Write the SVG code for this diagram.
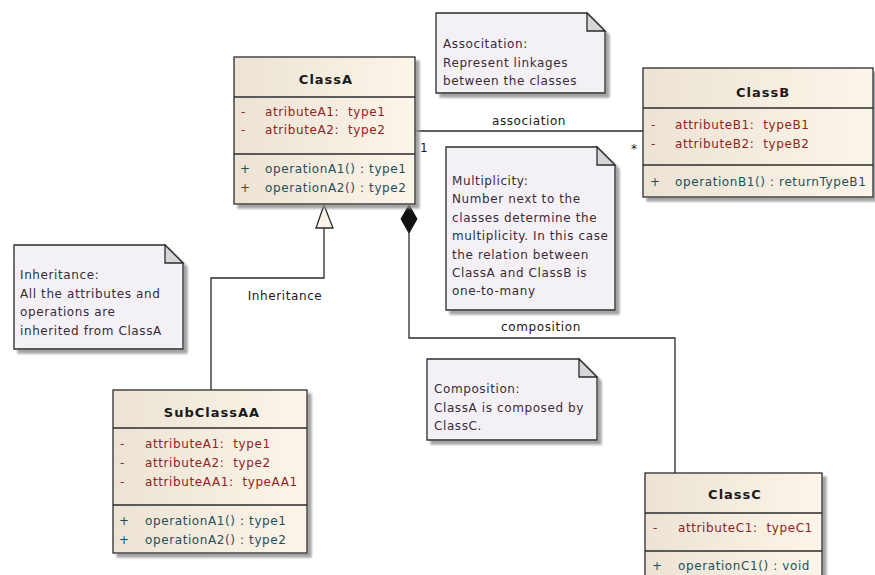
<svg xmlns="http://www.w3.org/2000/svg" width="875" height="575" viewBox="0 0 875 575">
  <defs>
    <linearGradient id="classFill" x1="0" y1="0" x2="1" y2="0">
      <stop offset="0" stop-color="#ece3d4"/>
      <stop offset="1" stop-color="#fcf5e9"/>
    </linearGradient>
    <filter id="shadow" x="-5%" y="-5%" width="115%" height="115%">
      <feDropShadow dx="4" dy="4" stdDeviation="1" flood-color="#8c8c8c" flood-opacity="0.8"/>
    </filter>
  </defs>
  <style>
    text { font-family: "DejaVu Sans", Verdana, sans-serif; font-size: 12px; letter-spacing: 0.6px; fill: #1a1a1a; white-space: pre; }
    .box { fill: url(#classFill); stroke: #2b2b2b; stroke-width: 1.3; filter: url(#shadow); }
    .sep { stroke: #2b2b2b; stroke-width: 1.3; }
    .title { font-weight: bold; font-size: 13px; letter-spacing: 1px; text-anchor: middle; fill: #1a1a1a; }
    .attr { fill: #8e2424; }
    .op { fill: #1f4f58; }
    .note { fill: #f4f1f6; stroke: #2b2b2b; stroke-width: 1.3; filter: url(#shadow); }
    .fold { fill: #d6d6d8; stroke: #2b2b2b; stroke-width: 1.3; }
    .notetext { fill: #3a2a3a; }
    .conn { fill: none; stroke: #2b2b2b; stroke-width: 1.3; }
    .label { fill: #1a1a1a; }
  </style>

  <!-- Connectors -->
  <g id="connectors">
    <!-- association ClassA - ClassB -->
    <line class="conn" x1="415" y1="131" x2="643" y2="131"/>
    <text class="label" x="529" y="125" text-anchor="middle">association</text>
    <text class="label" x="420" y="152">1</text>
    <text class="label" x="631" y="153">*</text>
    <!-- inheritance SubClassAA -> ClassA -->
    <polyline class="conn" points="211,390 211,278 324,278 324,228"/>
    <polygon points="324,205 333,228 316,228" fill="#faf4e8" stroke="#2b2b2b" stroke-width="1.3"/>
    <text class="label" x="285" y="300" text-anchor="middle">Inheritance</text>
    <!-- composition ClassA <>- ClassC -->
    <polyline class="conn" points="409,233 409,338 675,338 675,473"/>
    <polygon points="409,205 417,219 409,233 401,219" fill="#111" stroke="#111" stroke-width="1"/>
    <text class="label" x="541" y="331" text-anchor="middle">composition</text>
  </g>

  <!-- ClassA -->
  <g id="classA">
    <rect class="box" x="234" y="57" width="181" height="147"/>
    <line class="sep" x1="234" y1="97" x2="415" y2="97"/>
    <line class="sep" x1="234" y1="154" x2="415" y2="154"/>
    <text class="title" x="326" y="84">ClassA</text>
    <text class="attr" x="241" y="116">-</text>
    <text class="attr" x="265" y="116">atributeA1:  type1</text>
    <text class="attr" x="241" y="134">-</text>
    <text class="attr" x="265" y="134">atributeA2:  type2</text>
    <text class="op" x="240" y="173">+</text>
    <text class="op" x="265" y="173">operationA1() : type1</text>
    <text class="op" x="240" y="192">+</text>
    <text class="op" x="265" y="192">operationA2() : type2</text>
  </g>

  <!-- ClassB -->
  <g id="classB">
    <rect class="box" x="643" y="68" width="230" height="129"/>
    <line class="sep" x1="643" y1="108" x2="873" y2="108"/>
    <line class="sep" x1="643" y1="165" x2="873" y2="165"/>
    <text class="title" x="763" y="97">ClassB</text>
    <text class="attr" x="651" y="129">-</text>
    <text class="attr" x="675" y="129">attributeB1:  typeB1</text>
    <text class="attr" x="651" y="148">-</text>
    <text class="attr" x="675" y="148">attributeB2:  typeB2</text>
    <text class="op" x="650" y="186">+</text>
    <text class="op" x="675" y="186">operationB1() : returnTypeB1</text>
  </g>

  <!-- SubClassAA -->
  <g id="subClassAA">
    <rect class="box" x="113" y="390" width="194" height="163"/>
    <line class="sep" x1="113" y1="428" x2="307" y2="428"/>
    <line class="sep" x1="113" y1="505" x2="307" y2="505"/>
    <text class="title" x="212" y="417">SubClassAA</text>
    <text class="attr" x="120" y="448">-</text>
    <text class="attr" x="145" y="448">attributeA1:  type1</text>
    <text class="attr" x="120" y="467">-</text>
    <text class="attr" x="145" y="467">attributeA2:  type2</text>
    <text class="attr" x="120" y="486">-</text>
    <text class="attr" x="145" y="486">attributeAA1:  typeAA1</text>
    <text class="op" x="119" y="525">+</text>
    <text class="op" x="145" y="525">operationA1() : type1</text>
    <text class="op" x="119" y="544">+</text>
    <text class="op" x="145" y="544">operationA2() : type2</text>
  </g>

  <!-- ClassC -->
  <g id="classC">
    <rect class="box" x="645" y="473" width="177" height="115"/>
    <line class="sep" x1="645" y1="513" x2="822" y2="513"/>
    <line class="sep" x1="645" y1="551" x2="822" y2="551"/>
    <text class="title" x="735" y="499">ClassC</text>
    <text class="attr" x="653" y="532">-</text>
    <text class="attr" x="678" y="532">attributeC1:  typeC1</text>
    <text class="op" x="652" y="570">+</text>
    <text class="op" x="678" y="570">operationC1() : void</text>
  </g>

  <!-- Note: association -->
  <g id="noteAssociation">
    <path class="note" d="M436,13 H587 L605,31 V93 H436 Z"/>
    <path class="fold" d="M587,13 V31 H605 Z"/>
    <text class="notetext" x="443" y="48">Associtation:</text>
    <text class="notetext" x="443" y="67">Represent linkages</text>
    <text class="notetext" x="443" y="85">between the classes</text>
  </g>

  <!-- Note: multiplicity -->
  <g id="noteMultiplicity">
    <path class="note" d="M446,147 H597 L615,165 V310 H446 Z"/>
    <path class="fold" d="M597,147 V165 H615 Z"/>
    <text class="notetext" x="452" y="185">Multiplicity:</text>
    <text class="notetext" x="452" y="203">Number next to the</text>
    <text class="notetext" x="452" y="222">classes determine the</text>
    <text class="notetext" x="452" y="240">multiplicity. In this case</text>
    <text class="notetext" x="452" y="259">the relation between</text>
    <text class="notetext" x="452" y="277">ClassA and ClassB is</text>
    <text class="notetext" x="452" y="295">one-to-many</text>
  </g>

  <!-- Note: inheritance -->
  <g id="noteInheritance">
    <path class="note" d="M14,245 H165 L183,263 V349 H14 Z"/>
    <path class="fold" d="M165,245 V263 H183 Z"/>
    <text class="notetext" x="20" y="279">Inheritance:</text>
    <text class="notetext" x="20" y="298">All the attributes and</text>
    <text class="notetext" x="20" y="316">operations are</text>
    <text class="notetext" x="20" y="335">inherited from ClassA</text>
  </g>

  <!-- Note: composition -->
  <g id="noteComposition">
    <path class="note" d="M427,359 H579 L597,377 V440 H427 Z"/>
    <path class="fold" d="M579,359 V377 H597 Z"/>
    <text class="notetext" x="434" y="393">Composition:</text>
    <text class="notetext" x="434" y="412">ClassA is composed by</text>
    <text class="notetext" x="434" y="430">ClassC.</text>
  </g>
</svg>
